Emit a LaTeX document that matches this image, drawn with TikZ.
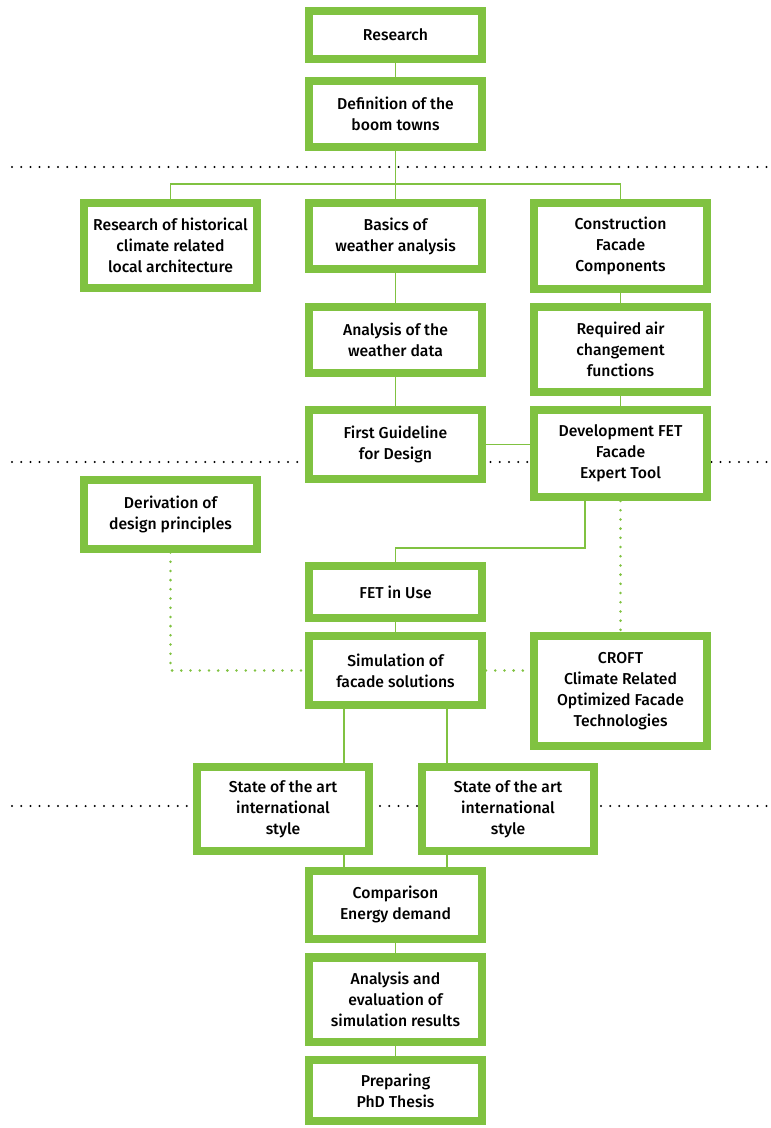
\documentclass[tikz,border=0pt]{standalone}
\usepackage{fontspec}
\setmainfont{Fira Sans}[UprightFont=* Medium]
\usetikzlibrary{positioning, calc}
\definecolor{leaf}{HTML}{80C241}
\tikzset{
    stepbox/.style={
        rectangle, draw=leaf, line width=0.2cm,
        minimum width=4.325cm, minimum height=1.65cm,
        fill=white, align=center, inner sep=2pt,
        font=\fontsize{11.2}{14.9}\selectfont
    },
    link/.style={draw=leaf, line width=1.4pt},
    hint/.style={draw=leaf, line width=2pt, line cap=round, dash pattern=on 0pt off 0.23cm},
    divider/.style={draw=black, line width=1.6pt, line cap=round, dash pattern=on 0pt off 0.23cm}
}

\begin{document}
\begin{tikzpicture}[x=0.025cm, y=-0.025cm]
\useasboundingbox (0,0) rectangle (770,1128);

% Phase dividers
\draw[divider] (12,167) -- (770,167);
\draw[divider] (12,462) -- (770,462);
\draw[divider] (12,806) -- (770,806);

% Column 2: Main line
\node[stepbox, minimum height=1.2cm] (research) at (395.5,35) {Research};
\node[stepbox] (definition) at (395.5,114) {Definition of the\\boom towns};
\node[stepbox] (basics) at (395.5,236) {Basics of\\weather analysis};
\node[stepbox] (weather) at (395.5,340) {Analysis of the\\weather data};
\node[stepbox, minimum height=1.7cm] (guideline) at (395.5,444.5) {First Guideline\\for Design};
\node[stepbox, minimum height=1.3cm] (fetuse) at (395.5,592) {FET in Use};
\node[stepbox, minimum height=1.7cm] (simulation) at (395.5,670.5) {Simulation of\\facade solutions};
\node[stepbox, minimum height=1.7cm] (comparison) at (395.5,904.5) {Comparison\\Energy demand};
\node[stepbox, minimum height=2.1cm] (evaluation) at (395.5,999.5) {Analysis and\\evaluation of\\simulation results};
\node[stepbox, minimum height=1.525cm] (thesis) at (395.5,1090.5) {Preparing\\PhD Thesis};

% Column 1: History
\node[stepbox, minimum height=2.125cm] (history) at (170.5,245.5) {Research of historical\\climate related\\local architecture};
\node[stepbox, minimum height=1.7cm] (derivation) at (170.5,514.5) {Derivation of\\design principles};

% Column 3: Facade
\node[stepbox, minimum height=2.15cm] (construction) at (620.5,246) {Construction\\Facade\\Components};
\node[stepbox, minimum height=2.125cm] (airchange) at (620.5,349.5) {Required air\\changement\\functions};
\node[stepbox, minimum height=2.175cm] (fetdev) at (620.5,453.5) {Development FET\\Facade\\Expert Tool};
\node[stepbox, minimum height=2.75cm] (croft) at (620.5,691) {CROFT\\Climate Related\\Optimized Facade\\Technologies};

% State of the art
\node[stepbox, minimum width=4.3cm, minimum height=2.1cm] (state1) at (283,809) {State of the art\\international\\style};
\node[stepbox, minimum width=4.3cm, minimum height=2.1cm] (state2) at (508,809) {State of the art\\international\\style};

% Connections
\coordinate (split) at (395.5,184);
\draw[link] (research) -- (definition);
\draw[link] (definition) -- (basics);
\draw[link] (history.north) |- (split) -| (construction.north);
\draw[link] (basics) -- (weather);
\draw[link] (weather) -- (guideline);
\draw[link] (construction) -- (airchange);
\draw[link] (airchange) -- (fetdev);
\draw[link] (guideline.east) -- (guideline.east -| fetdev.west);
\draw[link] ($(fetdev.south)+(-35.5,0)$) |- ($(fetuse.north)+(0,-14)$) -- (fetuse.north);
\draw[link] (fetuse) -- (simulation);
\draw[link] ($(simulation.south)+(-51.5,0)$) coordinate (left) -- (left |- state1.north);
\draw[link] ($(simulation.south)+(51.5,0)$) coordinate (right) -- (right |- state2.north);
\draw[link] (left |- state1.south) -- (left |- comparison.north);
\draw[link] (right |- state2.south) -- (right |- comparison.north);
\draw[link] (comparison) -- (evaluation);
\draw[link] (evaluation) -- (thesis);

% Loose relations
\draw[hint] (fetdev.south) -- (croft.north);
\draw[hint] (derivation.south) |- (simulation.west);
\draw[hint] (simulation.east) -- (simulation.east -| croft.west);

\end{tikzpicture}
\end{document}
